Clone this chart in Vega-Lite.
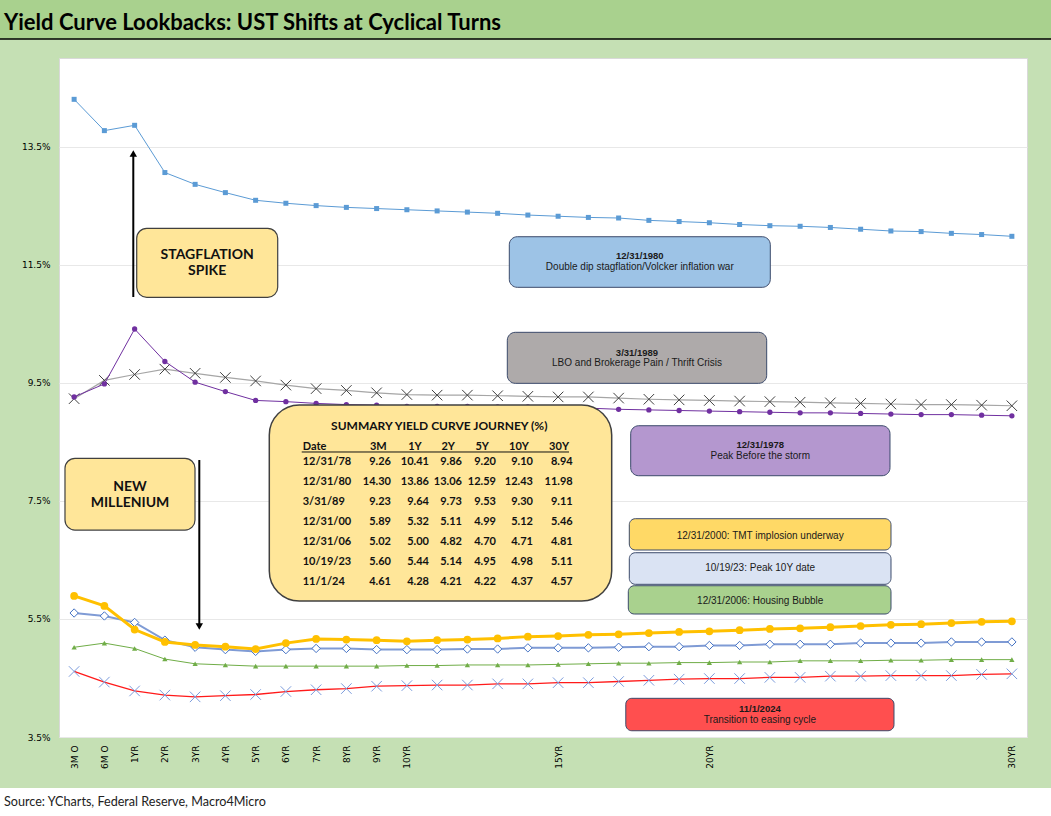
{
  "$schema": "https://vega.github.io/schema/vega-lite/v6.json",
  "width": 968,
  "height": 679,
  "autosize": {"type": "none"},
  "padding": {"left": 59, "top": 58, "right": 24, "bottom": 79},
  "background": "#c5e0b4",
  "title": {
    "text": "Yield Curve Lookbacks: UST Shifts at Cyclical Turns",
    "anchor": "start",
    "frame": "group",
    "dx": -55,
    "dy": 53,
    "offset": 0,
    "baseline": "alphabetic",
    "font": "Lato",
    "fontSize": 22,
    "fontWeight": "bold",
    "color": "#000000"
  },
  "config": {
    "view": {"fill": "white", "stroke": "#d9d9d9"},
    "axis": {"labelFont": "DejaVu Sans", "labelFontSize": 9, "labelColor": "#000000", "labelFlush": false, "labelOverlap": false}
  },
  "datasets": {
    "curves": [
      {"k": 0, "tenor": "3MO", "y1978": 9.26, "y1980": 14.30, "y1989": 9.23, "y2000": 5.89, "y2006": 5.02, "y2023": 5.60, "y2024": 4.61},
      {"k": 1, "tenor": "6MO", "y1978": 9.48, "y1980": 13.77, "y1989": 9.54, "y2000": 5.72, "y2006": 5.09, "y2023": 5.55, "y2024": 4.43},
      {"k": 2, "tenor": "1YR", "y1978": 10.41, "y1980": 13.86, "y1989": 9.64, "y2000": 5.32, "y2006": 5.00, "y2023": 5.44, "y2024": 4.28},
      {"k": 3, "tenor": "2YR", "y1978": 9.86, "y1980": 13.06, "y1989": 9.73, "y2000": 5.11, "y2006": 4.82, "y2023": 5.14, "y2024": 4.21},
      {"k": 4, "tenor": "3YR", "y1978": 9.51, "y1980": 12.86, "y1989": 9.66, "y2000": 5.06, "y2006": 4.74, "y2023": 5.02, "y2024": 4.18},
      {"k": 5, "tenor": "4YR", "y1978": 9.35, "y1980": 12.72, "y1989": 9.59, "y2000": 5.03, "y2006": 4.72, "y2023": 4.98, "y2024": 4.20},
      {"k": 6, "tenor": "5YR", "y1978": 9.20, "y1980": 12.59, "y1989": 9.53, "y2000": 4.99, "y2006": 4.70, "y2023": 4.95, "y2024": 4.22},
      {"k": 7, "tenor": "6YR", "y1978": 9.18, "y1980": 12.54, "y1989": 9.46, "y2000": 5.09, "y2006": 4.70, "y2023": 4.98, "y2024": 4.27},
      {"k": 8, "tenor": "7YR", "y1978": 9.15, "y1980": 12.50, "y1989": 9.40, "y2000": 5.16, "y2006": 4.70, "y2023": 5.00, "y2024": 4.30},
      {"k": 9, "tenor": "8YR", "y1978": 9.13, "y1980": 12.47, "y1989": 9.37, "y2000": 5.15, "y2006": 4.70, "y2023": 5.00, "y2024": 4.32},
      {"k": 10, "tenor": "9YR", "y1978": 9.12, "y1980": 12.45, "y1989": 9.33, "y2000": 5.14, "y2006": 4.70, "y2023": 4.98, "y2024": 4.36},
      {"k": 11, "tenor": "10YR", "y1978": 9.10, "y1980": 12.43, "y1989": 9.30, "y2000": 5.12, "y2006": 4.71, "y2023": 4.98, "y2024": 4.37},
      {"k": 12, "tenor": "11YR", "y1978": 9.10, "y1980": 12.41, "y1989": 9.29, "y2000": 5.14, "y2006": 4.71, "y2023": 4.98, "y2024": 4.38},
      {"k": 13, "tenor": "12YR", "y1978": 9.10, "y1980": 12.39, "y1989": 9.29, "y2000": 5.15, "y2006": 4.72, "y2023": 4.99, "y2024": 4.38},
      {"k": 14, "tenor": "13YR", "y1978": 9.09, "y1980": 12.37, "y1989": 9.28, "y2000": 5.17, "y2006": 4.72, "y2023": 4.99, "y2024": 4.40},
      {"k": 15, "tenor": "14YR", "y1978": 9.09, "y1980": 12.34, "y1989": 9.27, "y2000": 5.20, "y2006": 4.72, "y2023": 5.01, "y2024": 4.40},
      {"k": 16, "tenor": "15YR", "y1978": 9.08, "y1980": 12.32, "y1989": 9.26, "y2000": 5.21, "y2006": 4.73, "y2023": 5.01, "y2024": 4.42},
      {"k": 17, "tenor": "16YR", "y1978": 9.07, "y1980": 12.30, "y1989": 9.26, "y2000": 5.23, "y2006": 4.74, "y2023": 5.01, "y2024": 4.42},
      {"k": 18, "tenor": "17YR", "y1978": 9.05, "y1980": 12.29, "y1989": 9.24, "y2000": 5.24, "y2006": 4.75, "y2023": 5.02, "y2024": 4.44},
      {"k": 19, "tenor": "18YR", "y1978": 9.04, "y1980": 12.25, "y1989": 9.22, "y2000": 5.26, "y2006": 4.75, "y2023": 5.03, "y2024": 4.46},
      {"k": 20, "tenor": "19YR", "y1978": 9.03, "y1980": 12.23, "y1989": 9.21, "y2000": 5.28, "y2006": 4.76, "y2023": 5.03, "y2024": 4.48},
      {"k": 21, "tenor": "20YR", "y1978": 9.02, "y1980": 12.21, "y1989": 9.20, "y2000": 5.29, "y2006": 4.76, "y2023": 5.05, "y2024": 4.49},
      {"k": 22, "tenor": "21YR", "y1978": 9.01, "y1980": 12.18, "y1989": 9.19, "y2000": 5.31, "y2006": 4.77, "y2023": 5.05, "y2024": 4.49},
      {"k": 23, "tenor": "22YR", "y1978": 9.00, "y1980": 12.16, "y1989": 9.18, "y2000": 5.33, "y2006": 4.77, "y2023": 5.07, "y2024": 4.51},
      {"k": 24, "tenor": "23YR", "y1978": 8.99, "y1980": 12.15, "y1989": 9.17, "y2000": 5.34, "y2006": 4.79, "y2023": 5.07, "y2024": 4.51},
      {"k": 25, "tenor": "24YR", "y1978": 8.99, "y1980": 12.13, "y1989": 9.16, "y2000": 5.36, "y2006": 4.79, "y2023": 5.07, "y2024": 4.53},
      {"k": 26, "tenor": "25YR", "y1978": 8.98, "y1980": 12.10, "y1989": 9.15, "y2000": 5.38, "y2006": 4.79, "y2023": 5.09, "y2024": 4.53},
      {"k": 27, "tenor": "26YR", "y1978": 8.97, "y1980": 12.07, "y1989": 9.14, "y2000": 5.40, "y2006": 4.80, "y2023": 5.09, "y2024": 4.54},
      {"k": 28, "tenor": "27YR", "y1978": 8.96, "y1980": 12.06, "y1989": 9.13, "y2000": 5.41, "y2006": 4.80, "y2023": 5.09, "y2024": 4.54},
      {"k": 29, "tenor": "28YR", "y1978": 8.96, "y1980": 12.03, "y1989": 9.13, "y2000": 5.43, "y2006": 4.81, "y2023": 5.11, "y2024": 4.54},
      {"k": 30, "tenor": "29YR", "y1978": 8.95, "y1980": 12.01, "y1989": 9.12, "y2000": 5.45, "y2006": 4.81, "y2023": 5.11, "y2024": 4.56},
      {"k": 31, "tenor": "30YR", "y1978": 8.94, "y1980": 11.98, "y1989": 9.11, "y2000": 5.46, "y2006": 4.81, "y2023": 5.11, "y2024": 4.57}
    ]
  },
  "data": {"name": "curves"},
  "layer": [
    {
      "mark": {"type": "line", "color": "#5b9bd5", "strokeWidth": 1, "point": {"filled": true, "shape": "square", "size": 25, "color": "#5b9bd5"}},
      "encoding": {
        "x": {"field": "k", "type": "quantitative", "title": null,
              "scale": {"domain": [-0.5, 31.5], "nice": false, "zero": false},
              "axis": {"values": [0, 1, 2, 3, 4, 5, 6, 7, 8, 9, 10, 11, 16, 21, 31], "labelExpr": "datum.value == 0 ? '3M O' : datum.value == 1 ? '6M O' : (datum.value - 1) + 'YR'", "labelAngle": -90, "grid": false, "ticks": false, "tickSize": 0, "domain": false, "labelPadding": 8}},
        "y": {"field": "y1980", "type": "quantitative", "title": null,
              "scale": {"domain": [3.5, 15], "nice": false, "zero": false},
              "axis": {"values": [3.5, 5.5, 7.5, 9.5, 11.5, 13.5], "labelExpr": "format(datum.value, '.1f') + '%'", "grid": true, "gridColor": "#e8e8e8", "ticks": false, "tickSize": 0, "domain": false, "labelPadding": 9}}
      }
    },
    {
      "mark": {"type": "line", "color": "#a6a6a6", "strokeWidth": 1.2, "point": {"filled": false, "shape": "M-1,-1L1,1M-1,1L1,-1", "size": 110, "color": "#404040", "strokeWidth": 1}},
      "encoding": {"x": {"field": "k", "type": "quantitative", "title": null}, "y": {"field": "y1989", "type": "quantitative", "title": null}}
    },
    {
      "mark": {"type": "line", "color": "#7030a0", "strokeWidth": 1, "point": {"filled": true, "shape": "circle", "size": 28, "color": "#7030a0"}},
      "encoding": {"x": {"field": "k", "type": "quantitative", "title": null}, "y": {"field": "y1978", "type": "quantitative", "title": null}}
    },
    {
      "mark": {"type": "line", "color": "#ff1a1a", "strokeWidth": 1.3, "point": {"filled": false, "shape": "M-1,-1L1,1M-1,1L1,-1", "size": 110, "color": "#7b9bdc", "strokeWidth": 1}},
      "encoding": {"x": {"field": "k", "type": "quantitative", "title": null}, "y": {"field": "y2024", "type": "quantitative", "title": null}}
    },
    {
      "mark": {"type": "line", "color": "#70ad47", "strokeWidth": 1, "point": {"filled": true, "shape": "triangle-up", "size": 28, "color": "#70ad47"}},
      "encoding": {"x": {"field": "k", "type": "quantitative", "title": null}, "y": {"field": "y2006", "type": "quantitative", "title": null}}
    },
    {
      "mark": {"type": "line", "color": "#7f9bd5", "strokeWidth": 2, "point": {"filled": true, "shape": "diamond", "size": 70, "fill": "white", "stroke": "#4472c4", "strokeWidth": 1}},
      "encoding": {"x": {"field": "k", "type": "quantitative", "title": null}, "y": {"field": "y2023", "type": "quantitative", "title": null}}
    },
    {
      "mark": {"type": "line", "color": "#ffc000", "strokeWidth": 3, "point": {"filled": true, "shape": "circle", "size": 60, "color": "#ffc000"}},
      "encoding": {"x": {"field": "k", "type": "quantitative", "title": null}, "y": {"field": "y2000", "type": "quantitative", "title": null}}
    },
    {
      "data": {"values": [{}]},
      "mark": {"type": "rect", "fill": "#a9d18e"},
      "encoding": {"x": {"datum": -2.6}, "x2": {"datum": 32.6}, "y": {"datum": 16.0}, "y2": {"datum": 15.322}}
    },
    {
      "data": {"values": [{}]},
      "mark": {"type": "rule", "color": "#000000", "strokeWidth": 1.5},
      "encoding": {"x": {"datum": -2.6}, "x2": {"datum": 32.6}, "y": {"datum": 15.322}}
    },
    {
      "data": {"values": [{}]},
      "mark": {"type": "rect", "fill": "#ffffff"},
      "encoding": {"x": {"datum": -2.6}, "x2": {"datum": 32.6}, "y": {"datum": 2.636}, "y2": {"datum": 1.8}}
    },
    {
      "data": {"values": [{}]},
      "mark": {"type": "text", "align": "left", "baseline": "middle", "font": "Lato", "fontSize": 12.6, "color": "#222222"},
      "encoding": {"x": {"datum": -2.318}, "y": {"datum": 2.398}, "text": {"value": "Source: YCharts, Federal Reserve, Macro4Micro"}}
    },
    {
      "data": {"values": [{}]},
      "mark": {"type": "rule", "color": "#000000", "strokeWidth": 2},
      "encoding": {"x": {"datum": 1.956}, "y": {"datum": 10.952}, "y2": {"datum": 13.34}}
    },
    {
      "data": {"values": [{}]},
      "mark": {"type": "point", "shape": "triangle-up", "filled": true, "size": 55, "color": "#000000", "opacity": 1},
      "encoding": {"x": {"datum": 1.956}, "y": {"datum": 13.382}}
    },
    {
      "data": {"values": [{}]},
      "mark": {"type": "rule", "color": "#000000", "strokeWidth": 2},
      "encoding": {"x": {"datum": 4.138}, "y": {"datum": 8.191}, "y2": {"datum": 5.413}}
    },
    {
      "data": {"values": [{}]},
      "mark": {"type": "point", "shape": "triangle-down", "filled": true, "size": 55, "color": "#000000", "opacity": 1},
      "encoding": {"x": {"datum": 4.138}, "y": {"datum": 5.371}}
    },
    {
      "data": {"values": [{}]},
      "mark": {"type": "rect", "fill": "#ffe699", "stroke": "#404040", "strokeWidth": 1.2, "cornerRadius": 10},
      "encoding": {"x": {"datum": 2.069}, "x2": {"datum": 6.73}, "y": {"datum": 12.115}, "y2": {"datum": 10.947}}
    },
    {
      "data": {"values": [{}]},
      "mark": {"type": "text", "align": "center", "baseline": "middle", "font": "Lato", "fontSize": 14, "fontWeight": "bold", "color": "#111111", "lineHeight": 16},
      "encoding": {"x": {"datum": 4.399}, "y": {"datum": 11.663}, "text": {"value": ["STAGFLATION", "SPIKE"]}}
    },
    {
      "data": {"values": [{}]},
      "mark": {"type": "rect", "fill": "#ffe699", "stroke": "#404040", "strokeWidth": 1.2, "cornerRadius": 10},
      "encoding": {"x": {"datum": -0.302}, "x2": {"datum": 3.996}, "y": {"datum": 8.22}, "y2": {"datum": 7.005}}
    },
    {
      "data": {"values": [{}]},
      "mark": {"type": "text", "align": "center", "baseline": "middle", "font": "Lato", "fontSize": 14, "fontWeight": "bold", "color": "#111111", "lineHeight": 16},
      "encoding": {"x": {"datum": 1.847}, "y": {"datum": 7.734}, "text": {"value": ["NEW", "MILLENIUM"]}}
    },
    {
      "data": {"values": [{}]},
      "mark": {"type": "rect", "fill": "#ffe699", "stroke": "#404040", "strokeWidth": 1.5, "cornerRadius": 30},
      "encoding": {"x": {"datum": 6.452}, "x2": {"datum": 17.771}, "y": {"datum": 9.123}, "y2": {"datum": 5.803}}
    },
    {
      "data": {"values": [{}]},
      "mark": {"type": "text", "align": "center", "baseline": "middle", "font": "Lato", "fontSize": 12, "fontWeight": "bold", "color": "#111111"},
      "encoding": {"x": {"datum": 12.072}, "y": {"datum": 8.772}, "text": {"value": "SUMMARY YIELD CURVE JOURNEY (%)"}}
    },
    {
      "data": {"values": [{}]},
      "mark": {"type": "rule", "color": "#111111", "strokeWidth": 1},
      "encoding": {"x": {"datum": 7.524}, "x2": {"datum": 16.36}, "y": {"datum": 8.327}}
    },
    {
      "data": {"values": [{}]},
      "mark": {"type": "text", "align": "left", "baseline": "middle", "font": "Lato", "fontSize": 11, "fontWeight": "bold", "color": "#111111"},
      "encoding": {"x": {"datum": 7.556}, "y": {"datum": 8.416}, "text": {"value": "Date"}}
    },
    {
      "data": {"values": [{}]},
      "mark": {"type": "text", "align": "right", "baseline": "middle", "font": "Lato", "fontSize": 11, "fontWeight": "bold", "color": "#111111"},
      "encoding": {"x": {"datum": 10.333}, "y": {"datum": 8.416}, "text": {"value": "3M"}}
    },
    {
      "data": {"values": [{}]},
      "mark": {"type": "text", "align": "right", "baseline": "middle", "font": "Lato", "fontSize": 11, "fontWeight": "bold", "color": "#111111"},
      "encoding": {"x": {"datum": 11.49}, "y": {"datum": 8.416}, "text": {"value": "1Y"}}
    },
    {
      "data": {"values": [{}]},
      "mark": {"type": "text", "align": "right", "baseline": "middle", "font": "Lato", "fontSize": 11, "fontWeight": "bold", "color": "#111111"},
      "encoding": {"x": {"datum": 12.591}, "y": {"datum": 8.416}, "text": {"value": "2Y"}}
    },
    {
      "data": {"values": [{}]},
      "mark": {"type": "text", "align": "right", "baseline": "middle", "font": "Lato", "fontSize": 11, "fontWeight": "bold", "color": "#111111"},
      "encoding": {"x": {"datum": 13.715}, "y": {"datum": 8.416}, "text": {"value": "5Y"}}
    },
    {
      "data": {"values": [{}]},
      "mark": {"type": "text", "align": "right", "baseline": "middle", "font": "Lato", "fontSize": 11, "fontWeight": "bold", "color": "#111111"},
      "encoding": {"x": {"datum": 15.037}, "y": {"datum": 8.416}, "text": {"value": "10Y"}}
    },
    {
      "data": {"values": [{}]},
      "mark": {"type": "text", "align": "right", "baseline": "middle", "font": "Lato", "fontSize": 11, "fontWeight": "bold", "color": "#111111"},
      "encoding": {"x": {"datum": 16.36}, "y": {"datum": 8.416}, "text": {"value": "30Y"}}
    },
    {
      "data": {"values": [{}]},
      "mark": {"type": "text", "align": "left", "baseline": "middle", "font": "Lato", "fontSize": 11, "fontWeight": "bold", "color": "#111111", "lineHeight": 20},
      "encoding": {"x": {"datum": 7.556}, "y": {"datum": 8.162}, "text": {"value": ["12/31/78", "12/31/80", "3/31/89", "12/31/00", "12/31/06", "10/19/23", "11/1/24"]}}
    },
    {
      "data": {"values": [{}]},
      "mark": {"type": "text", "align": "right", "baseline": "middle", "font": "Lato", "fontSize": 11, "fontWeight": "bold", "color": "#111111", "lineHeight": 20},
      "encoding": {"x": {"datum": 10.475}, "y": {"datum": 8.162}, "text": {"value": ["9.26", "14.30", "9.23", "5.89", "5.02", "5.60", "4.61"]}}
    },
    {
      "data": {"values": [{}]},
      "mark": {"type": "text", "align": "right", "baseline": "middle", "font": "Lato", "fontSize": 11, "fontWeight": "bold", "color": "#111111", "lineHeight": 20},
      "encoding": {"x": {"datum": 11.731}, "y": {"datum": 8.162}, "text": {"value": ["10.41", "13.86", "9.64", "5.32", "5.00", "5.44", "4.28"]}}
    },
    {
      "data": {"values": [{}]},
      "mark": {"type": "text", "align": "right", "baseline": "middle", "font": "Lato", "fontSize": 11, "fontWeight": "bold", "color": "#111111", "lineHeight": 20},
      "encoding": {"x": {"datum": 12.822}, "y": {"datum": 8.162}, "text": {"value": ["9.86", "13.06", "9.73", "5.11", "4.82", "5.14", "4.21"]}}
    },
    {
      "data": {"values": [{}]},
      "mark": {"type": "text", "align": "right", "baseline": "middle", "font": "Lato", "fontSize": 11, "fontWeight": "bold", "color": "#111111", "lineHeight": 20},
      "encoding": {"x": {"datum": 13.946}, "y": {"datum": 8.162}, "text": {"value": ["9.20", "12.59", "9.53", "4.99", "4.70", "4.95", "4.22"]}}
    },
    {
      "data": {"values": [{}]},
      "mark": {"type": "text", "align": "right", "baseline": "middle", "font": "Lato", "fontSize": 11, "fontWeight": "bold", "color": "#111111", "lineHeight": 20},
      "encoding": {"x": {"datum": 15.169}, "y": {"datum": 8.162}, "text": {"value": ["9.10", "12.43", "9.30", "5.12", "4.71", "4.98", "4.37"]}}
    },
    {
      "data": {"values": [{}]},
      "mark": {"type": "text", "align": "right", "baseline": "middle", "font": "Lato", "fontSize": 11, "fontWeight": "bold", "color": "#111111", "lineHeight": 20},
      "encoding": {"x": {"datum": 16.482}, "y": {"datum": 8.162}, "text": {"value": ["8.94", "11.98", "9.11", "5.46", "4.81", "5.11", "4.57"]}}
    },
    {
      "data": {"values": [{}]},
      "mark": {"type": "rect", "fill": "#9dc3e6", "stroke": "#3b4a6b", "strokeWidth": 1, "cornerRadius": 8},
      "encoding": {"x": {"datum": 14.386}, "x2": {"datum": 23.014}, "y": {"datum": 11.973}, "y2": {"datum": 11.116}}
    },
    {
      "data": {"values": [{}]},
      "mark": {"type": "text", "align": "center", "baseline": "middle", "font": "Liberation Sans", "fontSize": 9.5, "fontWeight": "bold", "color": "#1a1a1a"},
      "encoding": {"x": {"datum": 18.7}, "y": {"datum": 11.646}, "text": {"value": "12/31/1980"}}
    },
    {
      "data": {"values": [{}]},
      "mark": {"type": "text", "align": "center", "baseline": "middle", "font": "Liberation Sans", "fontSize": 10, "color": "#1a1a1a"},
      "encoding": {"x": {"datum": 18.7}, "y": {"datum": 11.452}, "text": {"value": "Double dip stagflation/Volcker inflation war"}}
    },
    {
      "data": {"values": [{}]},
      "mark": {"type": "rect", "fill": "#aeaaaa", "stroke": "#3b4a6b", "strokeWidth": 1, "cornerRadius": 8},
      "encoding": {"x": {"datum": 14.32}, "x2": {"datum": 22.895}, "y": {"datum": 10.354}, "y2": {"datum": 9.49}}
    },
    {
      "data": {"values": [{}]},
      "mark": {"type": "text", "align": "center", "baseline": "middle", "font": "Liberation Sans", "fontSize": 9.5, "fontWeight": "bold", "color": "#1a1a1a"},
      "encoding": {"x": {"datum": 18.607}, "y": {"datum": 9.998}, "text": {"value": "3/31/1989"}}
    },
    {
      "data": {"values": [{}]},
      "mark": {"type": "text", "align": "center", "baseline": "middle", "font": "Liberation Sans", "fontSize": 10, "color": "#1a1a1a"},
      "encoding": {"x": {"datum": 18.607}, "y": {"datum": 9.834}, "text": {"value": "LBO and Brokerage Pain / Thrift Crisis"}}
    },
    {
      "data": {"values": [{}]},
      "mark": {"type": "rect", "fill": "#b497cf", "stroke": "#3b4a6b", "strokeWidth": 1, "cornerRadius": 8},
      "encoding": {"x": {"datum": 18.399}, "x2": {"datum": 26.971}, "y": {"datum": 8.772}, "y2": {"datum": 7.925}}
    },
    {
      "data": {"values": [{}]},
      "mark": {"type": "text", "align": "center", "baseline": "middle", "font": "Liberation Sans", "fontSize": 9.5, "fontWeight": "bold", "color": "#1a1a1a"},
      "encoding": {"x": {"datum": 22.683}, "y": {"datum": 8.44}, "text": {"value": "12/31/1978"}}
    },
    {
      "data": {"values": [{}]},
      "mark": {"type": "text", "align": "center", "baseline": "middle", "font": "Liberation Sans", "fontSize": 10, "color": "#1a1a1a"},
      "encoding": {"x": {"datum": 22.683}, "y": {"datum": 8.264}, "text": {"value": "Peak Before the storm"}}
    },
    {
      "data": {"values": [{}]},
      "mark": {"type": "rect", "fill": "#ffd966", "stroke": "#3b4a6b", "strokeWidth": 1, "cornerRadius": 6},
      "encoding": {"x": {"datum": 18.353}, "x2": {"datum": 27.004}, "y": {"datum": 7.197}, "y2": {"datum": 6.667}}
    },
    {
      "data": {"values": [{}]},
      "mark": {"type": "text", "align": "center", "baseline": "middle", "font": "Liberation Sans", "fontSize": 10, "color": "#1a1a1a"},
      "encoding": {"x": {"datum": 22.68}, "y": {"datum": 6.904}, "text": {"value": "12/31/2000: TMT  implosion underway"}}
    },
    {
      "data": {"values": [{}]},
      "mark": {"type": "rect", "fill": "#dae3f3", "stroke": "#3b4a6b", "strokeWidth": 1, "cornerRadius": 6},
      "encoding": {"x": {"datum": 18.353}, "x2": {"datum": 27.004}, "y": {"datum": 6.621}, "y2": {"datum": 6.086}}
    },
    {
      "data": {"values": [{}]},
      "mark": {"type": "text", "align": "center", "baseline": "middle", "font": "Liberation Sans", "fontSize": 10, "color": "#1a1a1a"},
      "encoding": {"x": {"datum": 22.68}, "y": {"datum": 6.357}, "text": {"value": "10/19/23: Peak 10Y  date"}}
    },
    {
      "data": {"values": [{}]},
      "mark": {"type": "rect", "fill": "#a9d18e", "stroke": "#3b4a6b", "strokeWidth": 1, "cornerRadius": 6},
      "encoding": {"x": {"datum": 18.32}, "x2": {"datum": 27.004}, "y": {"datum": 6.062}, "y2": {"datum": 5.583}}
    },
    {
      "data": {"values": [{}]},
      "mark": {"type": "text", "align": "center", "baseline": "middle", "font": "Liberation Sans", "fontSize": 10, "color": "#1a1a1a"},
      "encoding": {"x": {"datum": 22.68}, "y": {"datum": 5.808}, "text": {"value": "12/31/2006: Housing Bubble"}}
    },
    {
      "data": {"values": [{}]},
      "mark": {"type": "rect", "fill": "#ff4f4f", "stroke": "#3b4a6b", "strokeWidth": 1, "cornerRadius": 6},
      "encoding": {"x": {"datum": 18.237}, "x2": {"datum": 27.103}, "y": {"datum": 4.155}, "y2": {"datum": 3.606}}
    },
    {
      "data": {"values": [{}]},
      "mark": {"type": "text", "align": "center", "baseline": "middle", "font": "Liberation Sans", "fontSize": 9.5, "fontWeight": "bold", "color": "#1a1a1a"},
      "encoding": {"x": {"datum": 22.67}, "y": {"datum": 3.969}, "text": {"value": "11/1/2024"}}
    },
    {
      "data": {"values": [{}]},
      "mark": {"type": "text", "align": "center", "baseline": "middle", "font": "Liberation Sans", "fontSize": 10, "color": "#1a1a1a"},
      "encoding": {"x": {"datum": 22.67}, "y": {"datum": 3.792}, "text": {"value": "Transition to easing cycle"}}
    }
  ]
}
